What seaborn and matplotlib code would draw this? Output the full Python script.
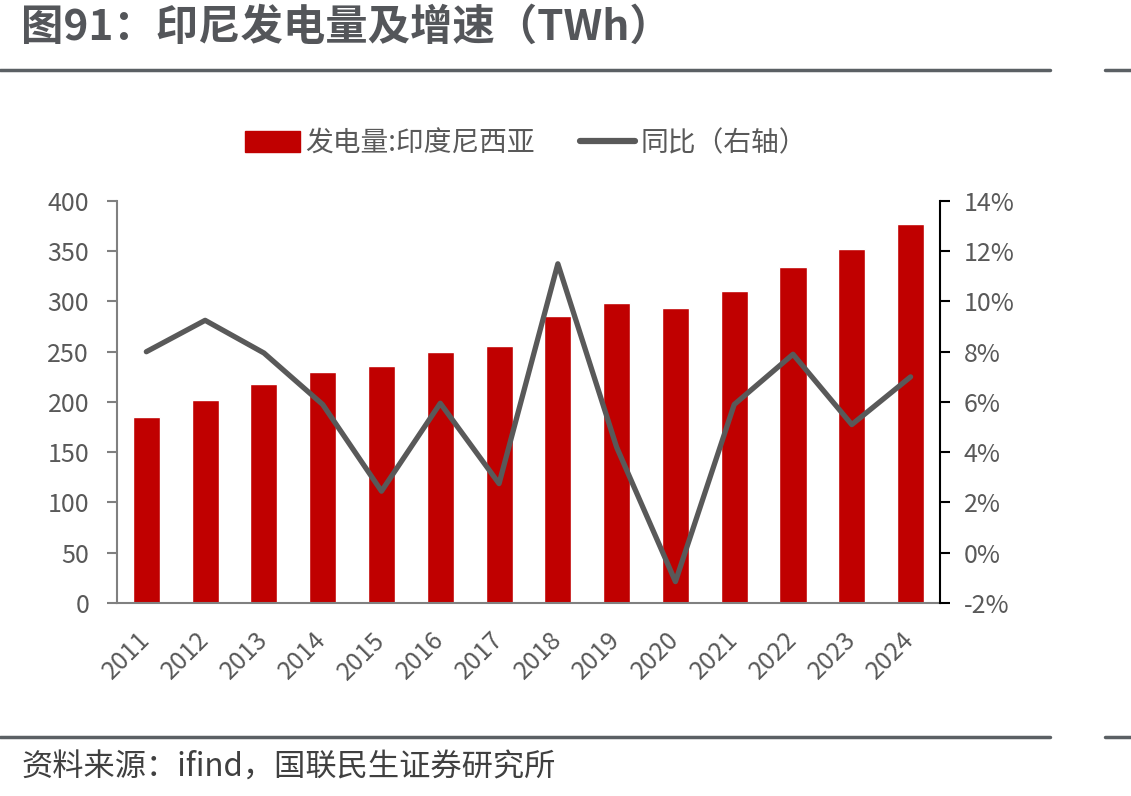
import numpy as np
import pandas as pd
import matplotlib
matplotlib.use("Agg")
import matplotlib.pyplot as plt
from matplotlib.lines import Line2D
from matplotlib.patches import Patch
import seaborn as sns

years = ["2011", "2012", "2013", "2014", "2015", "2016", "2017",
         "2018", "2019", "2020", "2021", "2022", "2023", "2024"]
generation_twh = [185, 202, 218, 230, 236, 250, 256, 286, 298, 294, 310, 334, 352, 377]
yoy_pct = [8.0, 9.25, 7.95, 5.9, 2.45, 5.95, 2.75, 11.5, 4.2, -1.15, 5.9, 7.9, 5.1, 7.0]

title = "图91：印尼发电量及增速（TWh）"
source = "资料来源：ifind，国联民生证券研究所"
bar_label = "发电量:印度尼西亚"
line_label = "同比（右轴）"

BAR_RED = "#C00000"
LINE_GREY = "#595959"
TEXT_GREY = "#595959"

sns.set_theme(style="white")
plt.rcParams["font.family"] = ["Noto Sans CJK SC", "DejaVu Sans"]

df = pd.DataFrame({"year": years, "gen": generation_twh, "yoy": yoy_pct})

fig = plt.figure(figsize=(11.31, 7.96), dpi=100)
ax = fig.add_axes([0.1034, 0.2425, 0.7277, 0.505])

sns.barplot(data=df, x="year", y="gen", color=BAR_RED, width=0.46,
            saturation=1, ax=ax)
ax.set_xlim(-0.5, len(years) - 0.5)
ax.set_ylim(0, 400)
ax.set_yticks(range(0, 401, 50))
ax.set_xlabel("")
ax.set_ylabel("")

ax2 = ax.twinx()
sns.lineplot(x=np.arange(len(years)), y=df["yoy"], color=LINE_GREY,
             linewidth=3.8, ax=ax2)
ax2.set_ylim(-2, 14)
ax2.set_yticks(range(-2, 15, 2))
ax2.set_yticklabels([f"{v}%" for v in range(-2, 15, 2)])
ax2.set_ylabel("")
ax2.set_xlim(-0.5, len(years) - 0.5)

# x ticks sit on category boundaries, labels in between
ax.set_xticks(np.arange(-0.5, len(years), 1.0))
ax.set_xticklabels([])
ax.set_xticks(np.arange(len(years)), minor=True)
ax.set_xticklabels(years, minor=True, rotation=45, ha="right",
                   va="center", rotation_mode="anchor")
ax.tick_params(axis="x", which="major", direction="out", length=7,
               width=1.5, color="#808080")
ax.tick_params(axis="x", which="minor", length=0, pad=24,
               labelsize=18, labelcolor=TEXT_GREY)
ax.tick_params(axis="y", direction="out", length=7, width=1.5,
               color="#808080", labelsize=18, labelcolor=TEXT_GREY, pad=13)
ax2.tick_params(axis="y", direction="out", length=7, width=1.5,
                color="#000000", labelsize=18, labelcolor=TEXT_GREY, pad=10)

for a in (ax, ax2):
    a.spines["top"].set_visible(False)
ax.spines["right"].set_visible(False)
ax.spines["left"].set_color("#808080")
ax.spines["left"].set_linewidth(1.5)
ax.spines["bottom"].set_color("#808080")
ax.spines["bottom"].set_linewidth(1.5)
ax2.spines["left"].set_visible(False)
ax2.spines["bottom"].set_visible(False)
ax2.spines["right"].set_color("#000000")
ax2.spines["right"].set_linewidth(1.5)

handles = [Patch(facecolor=BAR_RED, edgecolor=BAR_RED),
           Line2D([0], [0], color=LINE_GREY, linewidth=4.5)]
fig.legend(handles, [bar_label, line_label], loc="center",
           bbox_to_anchor=(0.465, 0.82), ncol=2, frameon=False,
           fontsize=20, handlelength=2.0, handleheight=0.8,
           handletextpad=0.2, columnspacing=1.6, labelcolor=TEXT_GREY)

fig.text(0.019, 0.965, title, fontsize=30.5, fontweight="bold",
         color="#54565A", ha="left", va="center")
fig.text(0.019, 0.035, source, fontsize=22.5, color="#404040",
         ha="left", va="center")

for y in (1 - 70 / 796, 1 - 737 / 796):
    fig.add_artist(Line2D([0, 1050 / 1131], [y, y], color="#5B6064",
                          linewidth=2.5, transform=fig.transFigure))
    fig.add_artist(Line2D([1105 / 1131, 1], [y, y], color="#5B6064",
                          linewidth=2.5, transform=fig.transFigure))

fig.savefig("out.png", dpi=100)
